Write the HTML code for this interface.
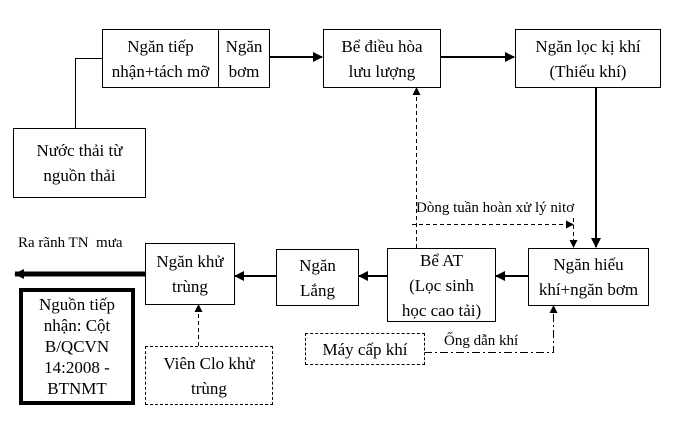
<!DOCTYPE html>
<html><head><meta charset="utf-8"><style>
body{margin:0;background:#fff;width:687px;height:424px;overflow:hidden;position:relative;font-family:"Liberation Serif","Times New Roman",serif;font-size:17px;color:#000}
.b{position:absolute;border:1px solid #000;box-sizing:border-box;text-align:center;line-height:25px;display:flex;align-items:center;justify-content:center;background:#fff}
.t{position:absolute;white-space:nowrap;font-size:15px}
svg{position:absolute;left:0;top:0}
</style></head><body>
<svg width="687" height="424">
<defs>
<marker id="a" markerWidth="10" markerHeight="10" refX="9" refY="5" orient="auto" markerUnits="userSpaceOnUse"><path d="M0,0 L10,5 L0,10 z"/></marker>
<marker id="s" markerWidth="8" markerHeight="8" refX="7" refY="4" orient="auto" markerUnits="userSpaceOnUse"><path d="M0,0 L8,4 L0,8 z"/></marker>
</defs>
<g stroke="#000" fill="none">
<polyline points="75.5,128 75.5,58.5 102,58.5" stroke-width="1"/>
<line x1="269" y1="57" x2="322" y2="57" stroke-width="2" marker-end="url(#a)"/>
<line x1="440" y1="57" x2="514" y2="57" stroke-width="2" marker-end="url(#a)"/>
<line x1="596" y1="87" x2="596" y2="247" stroke-width="2" marker-end="url(#a)"/>
<line x1="528" y1="276" x2="496" y2="276" stroke-width="2" marker-end="url(#a)"/>
<line x1="387" y1="276" x2="359" y2="276" stroke-width="2" marker-end="url(#a)"/>
<line x1="276" y1="276" x2="235" y2="276" stroke-width="2" marker-end="url(#a)"/>
<line x1="145" y1="274" x2="15" y2="274" stroke-width="5" marker-end="url(#a)"/>
<line x1="416.5" y1="248" x2="416.5" y2="88" stroke-width="1" stroke-dasharray="4,3" marker-end="url(#s)"/>
<line x1="412" y1="224.5" x2="573" y2="224.5" stroke-width="1" stroke-dasharray="4,3" marker-end="url(#s)"/>
<line x1="573.5" y1="218" x2="573.5" y2="247" stroke-width="1" stroke-dasharray="4,3" marker-end="url(#s)"/>
<polyline points="424,352.5 553.5,352.5 553.5,306" stroke-width="1" stroke-dasharray="8,3,2,3" marker-end="url(#s)"/>
<line x1="198.5" y1="346" x2="198.5" y2="305" stroke-width="1" stroke-dasharray="4,3" marker-end="url(#s)"/>
</g>
</svg>
<div class="b" style="left:13px;top:128px;width:133px;height:70px">Nước thải từ<br>nguồn thải</div>
<div class="b" style="left:102px;top:29px;width:117px;height:59px">Ngăn tiếp<br>nhận+tách mỡ</div>
<div class="b" style="left:218px;top:29px;width:52px;height:59px">Ngăn<br>bơm</div>
<div class="b" style="left:323px;top:29px;width:118px;height:59px">Bể điều hòa<br>lưu lượng</div>
<div class="b" style="left:515px;top:29px;width:146px;height:59px">Ngăn lọc kị khí<br>(Thiếu khí)</div>
<div class="b" style="left:528px;top:248px;width:121px;height:58px">Ngăn hiếu<br>khí+ngăn bơm</div>
<div class="b" style="left:387px;top:248px;width:109px;height:74px">Bể AT<br>(Lọc sinh<br>học cao tải)</div>
<div class="b" style="left:276px;top:249px;width:83px;height:57px">Ngăn<br>Lắng</div>
<div class="b" style="left:145px;top:243px;width:90px;height:62px">Ngăn khử<br>trùng</div>
<div class="b" style="left:19px;top:288px;width:116px;height:117px;border:4px solid #000;line-height:21px">Nguồn tiếp<br>nhận: Cột<br>B/QCVN<br>14:2008 -<br>BTNMT</div>
<div class="b" style="left:145px;top:346px;width:128px;height:59px;border:1px dashed #000">Viên Clo khử<br>trùng</div>
<div class="b" style="left:305px;top:333px;width:120px;height:32px;border:1px dashed #000">Máy cấp khí</div>
<div class="t" style="left:18px;top:235px">Ra rãnh TN&nbsp; mưa</div>
<div class="t" style="left:416px;top:200px">Dòng tuần hoàn xử lý nitơ</div>
<div class="t" style="left:444px;top:333px">Ống dẫn khí</div>
</body></html>
